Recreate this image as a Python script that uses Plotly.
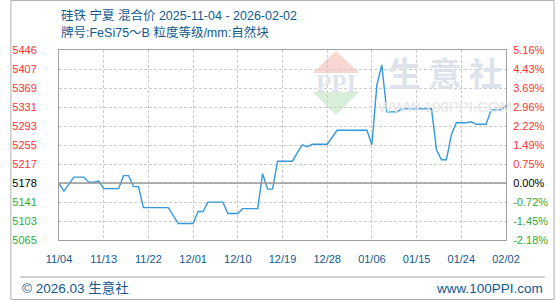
import plotly.graph_objects as go

# ---- data ----
dates = ["2025-11-04","2025-11-05","2025-11-07","2025-11-09","2025-11-10","2025-11-11","2025-11-12",
         "2025-11-13","2025-11-16","2025-11-17","2025-11-18","2025-11-19","2025-11-20","2025-11-21",
         "2025-11-26","2025-11-27","2025-11-28","2025-12-01","2025-12-02","2025-12-03","2025-12-04",
         "2025-12-07","2025-12-08","2025-12-10","2025-12-11","2025-12-14","2025-12-15","2025-12-16",
         "2025-12-17","2025-12-18","2025-12-21","2025-12-22","2025-12-23","2025-12-24","2025-12-25",
         "2025-12-28","2025-12-29","2025-12-30","2026-01-05","2026-01-06","2026-01-07","2026-01-08",
         "2026-01-09","2026-01-11","2026-01-12","2026-01-18","2026-01-19","2026-01-20","2026-01-21",
         "2026-01-22","2026-01-23","2026-01-25","2026-01-26","2026-01-27","2026-01-29","2026-01-30",
         "2026-02-01","2026-02-02"]
prices = [5178,5163,5191,5191,5181,5181,5183,
          5168,5168,5194,5194,5172,5172,5130,
          5130,5113,5098,5098,5122,5122,5141,
          5141,5118,5118,5128,5128,5198,5167,
          5167,5223,5223,5240,5256,5252,5257,
          5257,5272,5285,5285,5256,5376,5416,
          5322,5322,5328,5328,5246,5226,5226,
          5276,5300,5300,5302,5297,5297,5326,
          5326,5334]

x_tick_dates = ["2025-11-04","2025-11-13","2025-11-22","2025-12-01","2025-12-10","2025-12-19",
                "2025-12-28","2026-01-06","2026-01-15","2026-01-24","2026-02-02"]
x_tick_labels = ["11/04","11/13","11/22","12/01","12/10","12/19","12/28","01/06","01/15","01/24","02/02"]

y_left_labels = ["5065","5103","5141","5178","5217","5255","5293","5331","5369","5407","5446"]
y_right_labels = ["-2.18%","-1.45%","-0.72%","0.00%","0.75%","1.49%","2.22%","2.96%","3.69%","4.43%","5.16%"]
base_index = 3

title1 = "硅铁 宁夏 混合价 2025-11-04 - 2026-02-02"
title2 = "牌号:FeSi75～B 粒度等级/mm:自然块"
footer_left = "© 2026.03 生意社"
footer_right = "www.100PPI.com"

# ---- layout geometry ----
W, H = 560, 300
ML, MR, MT, MB = 50, 50, 50, 60
PW, PH = W - ML - MR, H - MT - MB
y_min, y_max = 5065.0, 5446.0
n = len(y_left_labels)
tickvals = [y_min + (y_max - y_min) * i / (n - 1) for i in range(n)]

RED, GREEN, BLACK = "#ff3333", "#33aa33", "#000000"
def colored(labels):
    out = []
    for i, t in enumerate(labels):
        c = BLACK if i == base_index else (RED if i > base_index else GREEN)
        out.append(f'<span style="color:{c}">{t}</span>')
    return out

def px(xp):
    return (xp - ML) / PW
def py(yp):
    return (H - MB - yp) / PH

FONT = "Liberation Sans, Arial, Noto Sans CJK SC, sans-serif"
BLUE = "#11598f"

fig = go.Figure()
fig.add_trace(go.Scatter(x=dates, y=prices, mode="lines",
                         line=dict(color="#3498db", width=1.4), hoverinfo="skip", showlegend=False))
fig.add_trace(go.Scatter(x=dates, y=prices, mode="lines", yaxis="y2",
                         line=dict(color="rgba(0,0,0,0)", width=0), hoverinfo="skip", showlegend=False))

shapes = []
# watermark logo (decoration)
shapes.append(dict(type="path", xref="paper", yref="paper", layer="below",
                   path=f"M {px(311)} {py(73)} L {px(335)} {py(51)} L {px(359)} {py(73)} Z",
                   fillcolor="#f8d6d2", line=dict(width=0)))
shapes.append(dict(type="path", xref="paper", yref="paper", layer="below",
                   path=f"M {px(311)} {py(92)} L {px(359)} {py(92)} L {px(335)} {py(115)} Z",
                   fillcolor="#d8eed8", line=dict(width=0)))
# base line
shapes.append(dict(type="line", xref="paper", yref="y", x0=0, x1=1,
                   y0=tickvals[base_index], y1=tickvals[base_index],
                   line=dict(color="#999999", width=1.5)))
# footer separator
shapes.append(dict(type="line", xref="paper", yref="paper", x0=px(10), x1=px(550),
                   y0=py(277), y1=py(277), line=dict(color="#a0a0a0", width=1)))
# outer frame
shapes.append(dict(type="rect", xref="paper", yref="paper", x0=px(0.5), x1=px(559.5),
                   y0=py(0.5), y1=py(299.5), line=dict(color="#b0b0b0", width=1)))

annotations = [
    dict(text=title1, x=px(50), y=py(15), xref="paper", yref="paper", xanchor="left", yanchor="middle",
         showarrow=False, font=dict(family=FONT, size=12.5, color=BLUE)),
    dict(text=title2, x=px(50), y=py(33), xref="paper", yref="paper", xanchor="left", yanchor="middle",
         showarrow=False, font=dict(family=FONT, size=12.5, color=BLUE)),
    dict(text=footer_left, x=px(10), y=py(288), xref="paper", yref="paper", xanchor="left", yanchor="middle",
         showarrow=False, font=dict(family=FONT, size=13.5, color=BLUE)),
    dict(text=footer_right, x=px(550), y=py(288), xref="paper", yref="paper", xanchor="right", yanchor="middle",
         showarrow=False, font=dict(family=FONT, size=13.5, color=BLUE)),
    # watermark texts
    dict(text="<b>PPI</b>", x=px(335), y=py(83), xref="paper", yref="paper", xanchor="center", yanchor="middle",
         showarrow=False, font=dict(family="Liberation Serif, serif", size=25, color="#dfe3ec")),
    dict(text="<b>生 意 社</b>", x=px(447), y=py(72), xref="paper", yref="paper", xanchor="center", yanchor="middle",
         showarrow=False, font=dict(family="Noto Sans CJK SC", size=33, color="#dde2ec")),
    dict(text="WWW.100PPI.COM", x=px(447), y=py(106), xref="paper", yref="paper", xanchor="center", yanchor="middle",
         showarrow=False, font=dict(family=FONT, size=15, color="#e6e6e6")),
]

fig.update_layout(
    width=W, height=H, margin=dict(l=ML, r=MR, t=MT, b=MB),
    paper_bgcolor="white", plot_bgcolor="white",
    showlegend=False,
    xaxis=dict(type="date", range=[x_tick_dates[0], x_tick_dates[-1]],
               tickmode="array", tickvals=x_tick_dates, ticktext=x_tick_labels,
               showgrid=True, gridcolor="#cccccc", griddash="3px,2px", gridwidth=1,
               showline=True, mirror=True, linecolor="#a0a0a0", linewidth=1,
               ticks="outside", ticklen=9, tickcolor="rgba(0,0,0,0)",
               tickfont=dict(family=FONT, size=11, color=BLUE), zeroline=False),
    yaxis=dict(range=[y_min, y_max], tickmode="array", tickvals=tickvals, ticktext=colored(y_left_labels),
               showgrid=True, gridcolor="#cccccc", griddash="3px,2px", gridwidth=1,
               showline=True, mirror=True, linecolor="#a0a0a0", linewidth=1,
               ticks="outside", ticklen=19, tickcolor="rgba(0,0,0,0)",
               tickfont=dict(family=FONT, size=11), zeroline=False),
    yaxis2=dict(range=[y_min, y_max], overlaying="y", side="right", tickmode="array",
                tickvals=tickvals, ticktext=colored(y_right_labels), showgrid=False,
                ticks="outside", ticklen=4, tickcolor="rgba(0,0,0,0)",
                tickfont=dict(family=FONT, size=11), zeroline=False, showline=False),
    shapes=shapes, annotations=annotations,
)

fig.write_html("out.html")
